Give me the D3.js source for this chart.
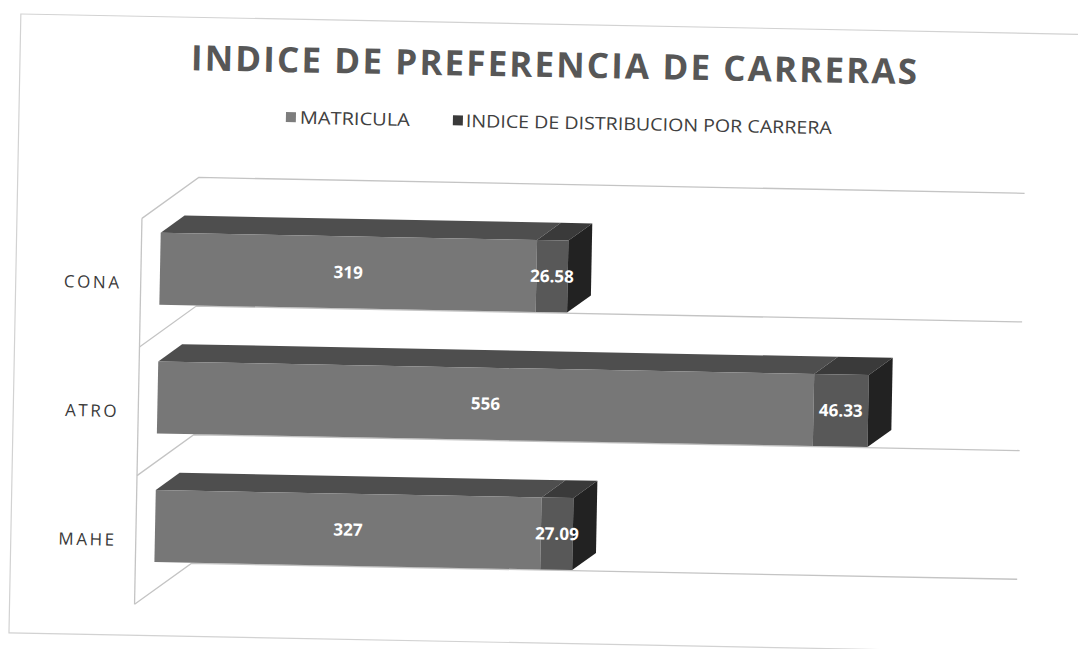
<!DOCTYPE html>
<html>
<head>
<meta charset="utf-8">
<script src="https://cdn.jsdelivr.net/npm/d3@7"></script>
<style>
  body { margin: 0; background: #fff; }
  svg { display: block; }
</style>
</head>
<body>
<svg id="chart"></svg>
<script>
// data
const categories = ["CONA", "ATRO", "MAHE"];
const matricula = [319, 556, 327];
const indice = [26.58, 46.33, 27.09];
const seriesNames = ["MATRICULA", "INDICE DE DISTRIBUCION POR CARRERA"];
const chartTitle = "INDICE DE PREFERENCIA DE CARRERAS";

var width = 1078, height = 649;

// 3d look: depth vector of the walls, bars sit part way in
var DX = 56, DY = -42;
var barD0 = 0.34, barD1 = 0.76;

// face colours (front, top, side) per series
var faces = [
  {front: "#777777", top: "#4e4e4e", side: "#333"},
  {front: "#585858", top: "#3a3a3a", side: "#222"}
];
var legendColors = ["#7d7d7d", "#3a3a3a"];

var svg = d3.select("#chart")
    .attr("width", width)
    .attr("height", height);

// the scan is a bit tilted, so tilt everything the same way
var g = svg.append("g")
    .attr("transform", "rotate(1.1, 539, 324)");

// outer frame of the scanned chart
g.append("rect")
    .attr("x", 15).attr("y", 24)
    .attr("width", 1100).attr("height", 619)
    .attr("fill", "none")
    .attr("stroke", "#d2d2d2")
    .attr("stroke-width", 1.2);

// scales (front plane, depth 0)
var x = d3.scaleLinear().domain([0, 700]).range([140, 966]);
var y = d3.scaleBand().domain(categories)
    .range([226, 612])
    .paddingInner(0.44)
    .paddingOuter(0.22);

function proj(px, py, d) { return [px + d * DX, py + d * DY]; }

// walls: side wall front edge, diagonals and back lines at the category boundaries
var step = y.step();
var bounds = d3.range(categories.length + 1).map(i => y.range()[0] + i * step);

g.append("line")
    .attr("x1", x(0)).attr("y1", bounds[0])
    .attr("x2", x(0)).attr("y2", bounds[bounds.length - 1])
    .attr("stroke", "#c4c4c4").attr("stroke-width", 1.3);

g.selectAll(".wallline")
    .data(bounds)
    .join("path")
    .attr("class", "wallline")
    .attr("fill", "none")
    .attr("stroke", "#c4c4c4")
    .attr("stroke-width", 1.3)
    .attr("d", b => {
        var back0 = proj(x(0), b, 1), back1 = proj(x(700), b, 1);
        return d3.line()([[x(0), b], back0, back1]);
    });

// stacked bars
var rows = categories.map((c, i) => ({cat: c, vals: [matricula[i], indice[i]]}));

rows.forEach(r => {
    var yTop = y(r.cat), yBot = y(r.cat) + y.bandwidth();
    var start = 0;
    r.vals.forEach((v, s) => {
        var x0 = x(start), x1 = x(start + v);
        var f = faces[s];
        var a = proj(x0, yTop, barD0), b = proj(x1, yTop, barD0),
            c = proj(x1, yTop, barD1), d = proj(x0, yTop, barD1);
        // top face
        g.append("path")
            .attr("d", d3.line()([a, b, c, d]) + "Z")
            .attr("fill", f.top);
        // front face
        var fb = proj(x0, yBot, barD0);
        g.append("rect")
            .attr("x", a[0]).attr("y", a[1])
            .attr("width", x1 - x0)
            .attr("height", yBot - yTop)
            .attr("fill", f.front);
        // side face only on the end of the bar
        if (s == r.vals.length - 1) {
            var e = proj(x1, yBot, barD0), h = proj(x1, yBot, barD1);
            g.append("path")
                .attr("d", d3.line()([b, c, h, e]) + "Z")
                .attr("fill", f.side);
        }
        // value label
        g.append("text")
            .attr("x", (a[0] + b[0]) / 2)
            .attr("y", (a[1] + fb[1]) / 2)
            .attr("dy", "0.35em")
            .attr("text-anchor", "middle")
            .attr("font-family", "'Open Sans', sans-serif")
            .attr("font-weight", "bold")
            .attr("font-size", 17)
            .attr("fill", "#fff")
            .text(v);
        start += v;
    });
});

// category labels
g.selectAll(".cat")
    .data(categories)
    .join("text")
    .attr("class", "cat")
    .attr("x", 121)
    .attr("y", d => y(d) + y.bandwidth() / 2)
    .attr("dy", "0.36em")
    .attr("text-anchor", "end")
    .attr("font-family", "'Open Sans', sans-serif")
    .attr("font-size", 17)
    .attr("letter-spacing", "2.6px")
    .attr("fill", "#3a3a3a")
    .text(d => d);

// title
g.append("text")
    .attr("x", 549)
    .attr("y", 77)
    .attr("text-anchor", "middle")
    .attr("font-family", "'Open Sans', sans-serif")
    .attr("font-weight", "bold")
    .attr("font-size", 35)
    .attr("textLength", 726)
    .attr("lengthAdjust", "spacing")
    .attr("fill", "#575757")
    .text(chartTitle);

// legend
var legendPos = [{sq: 282, tx: 296, len: 110}, {sq: 449, tx: 462, len: 366}];
var leg = g.selectAll(".leg")
    .data(seriesNames)
    .join("g")
    .attr("class", "leg");
leg.append("rect")
    .attr("x", (d, i) => legendPos[i].sq)
    .attr("y", 117)
    .attr("width", 10).attr("height", 10)
    .attr("fill", (d, i) => legendColors[i]);
leg.append("text")
    .attr("x", (d, i) => legendPos[i].tx)
    .attr("y", 128.5)
    .attr("font-family", "'Open Sans', sans-serif")
    .attr("font-size", 17.5)
    .attr("textLength", (d, i) => legendPos[i].len)
    .attr("lengthAdjust", "spacingAndGlyphs")
    .attr("fill", "#404040")
    .text(d => d);
</script>
</body>
</html>
